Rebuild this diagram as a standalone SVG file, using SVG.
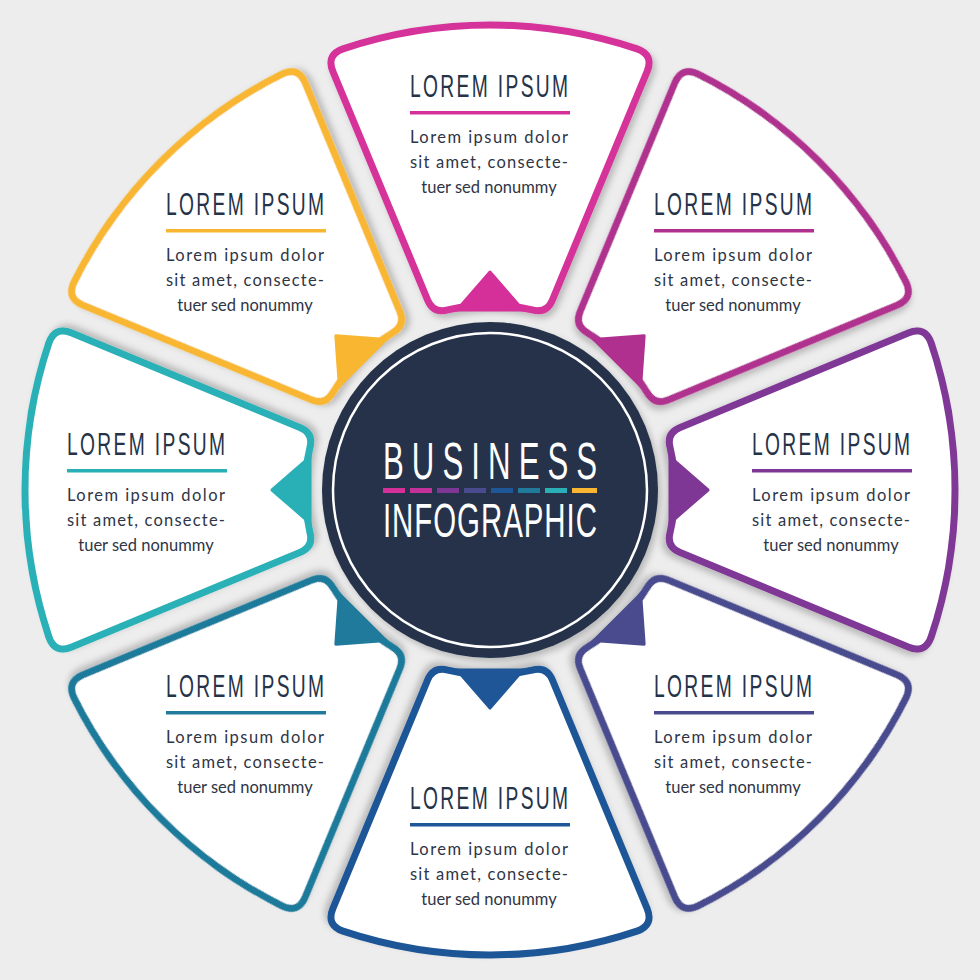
<svg xmlns="http://www.w3.org/2000/svg" xmlns:xlink="http://www.w3.org/1999/xlink" width="980" height="980" viewBox="0 0 980 980">
<defs>
<filter id="sh" x="-20%" y="-20%" width="140%" height="140%">
<feDropShadow dx="3" dy="4" stdDeviation="3" flood-color="#000" flood-opacity="0.22"/>
</filter>
<path id="sector" fill="#fff" stroke-width="7" stroke-linejoin="round" d="M -147,-441.1 A 465 465 0 0 1 147,-441.1 Q 164,-435.1 157.1,-418.5 L 62.4,-190 Q 56.7,-176.1 42.2,-180.1 A 185 185 0 0 0 -42.2,-180.1 Q -56.7,-176.1 -62.4,-190 L -157.1,-418.5 Q -164,-435.1 -147,-441.1 Z"/>
<path id="arrow" stroke-width="3" stroke-linejoin="round" d="M -33,-180 L 0,-218 L 33,-180 Z"/>
<style>
.hd{font-family:"Liberation Sans",Arial,sans-serif;font-size:31px;fill:#253349}
.bd{font-family:Lato,"Open Sans",sans-serif;font-size:16.5px;font-weight:400;fill:#2f3545}
.ct{font-family:"Liberation Sans",Arial,sans-serif;fill:#fff}
</style>
</defs>
<rect width="980" height="980" fill="#ededed"/>
<g id="connectors"/>
<g id="node-top">
<use xlink:href="#sector" href="#sector" transform="translate(490 490) rotate(0)" stroke="#d5309a" filter="url(#sh)"/>
<use xlink:href="#arrow" href="#arrow" transform="translate(490 490) rotate(0)" fill="#d5309a" stroke="#d5309a"/>
<text class="hd" transform="translate(410 97) scale(0.62 1)" textLength="255" lengthAdjust="spacing">LOREM IPSUM</text>
<rect x="410" y="111" width="160" height="3.5" fill="#d5309a"/>
<text class="bd" x="410" y="143" textLength="158" lengthAdjust="spacing">Lorem ipsum dolor</text>
<text class="bd" x="410" y="168" textLength="158" lengthAdjust="spacing">sit amet, consecte-</text>
<text class="bd" x="489" y="193" text-anchor="middle">tuer sed nonummy</text>
</g>
<g id="node-top-right">
<use xlink:href="#sector" href="#sector" transform="translate(490 490) rotate(45)" stroke="#b0308f" filter="url(#sh)"/>
<use xlink:href="#arrow" href="#arrow" transform="translate(490 490) rotate(45)" fill="#b0308f" stroke="#b0308f"/>
<text class="hd" transform="translate(654 215) scale(0.62 1)" textLength="255" lengthAdjust="spacing">LOREM IPSUM</text>
<rect x="654" y="229" width="160" height="3.5" fill="#b0308f"/>
<text class="bd" x="654" y="261" textLength="158" lengthAdjust="spacing">Lorem ipsum dolor</text>
<text class="bd" x="654" y="286" textLength="158" lengthAdjust="spacing">sit amet, consecte-</text>
<text class="bd" x="733" y="311" text-anchor="middle">tuer sed nonummy</text>
</g>
<g id="node-right">
<use xlink:href="#sector" href="#sector" transform="translate(490 490) rotate(90)" stroke="#7f3796" filter="url(#sh)"/>
<use xlink:href="#arrow" href="#arrow" transform="translate(490 490) rotate(90)" fill="#7f3796" stroke="#7f3796"/>
<text class="hd" transform="translate(752 455) scale(0.62 1)" textLength="255" lengthAdjust="spacing">LOREM IPSUM</text>
<rect x="752" y="469" width="160" height="3.5" fill="#7f3796"/>
<text class="bd" x="752" y="501" textLength="158" lengthAdjust="spacing">Lorem ipsum dolor</text>
<text class="bd" x="752" y="526" textLength="158" lengthAdjust="spacing">sit amet, consecte-</text>
<text class="bd" x="831" y="551" text-anchor="middle">tuer sed nonummy</text>
</g>
<g id="node-bottom-right">
<use xlink:href="#sector" href="#sector" transform="translate(490 490) rotate(135)" stroke="#4a4b8f" filter="url(#sh)"/>
<use xlink:href="#arrow" href="#arrow" transform="translate(490 490) rotate(135)" fill="#4a4b8f" stroke="#4a4b8f"/>
<text class="hd" transform="translate(654 697) scale(0.62 1)" textLength="255" lengthAdjust="spacing">LOREM IPSUM</text>
<rect x="654" y="711" width="160" height="3.5" fill="#4a4b8f"/>
<text class="bd" x="654" y="743" textLength="158" lengthAdjust="spacing">Lorem ipsum dolor</text>
<text class="bd" x="654" y="768" textLength="158" lengthAdjust="spacing">sit amet, consecte-</text>
<text class="bd" x="733" y="793" text-anchor="middle">tuer sed nonummy</text>
</g>
<g id="node-bottom">
<use xlink:href="#sector" href="#sector" transform="translate(490 490) rotate(180)" stroke="#1f5697" filter="url(#sh)"/>
<use xlink:href="#arrow" href="#arrow" transform="translate(490 490) rotate(180)" fill="#1f5697" stroke="#1f5697"/>
<text class="hd" transform="translate(410 809) scale(0.62 1)" textLength="255" lengthAdjust="spacing">LOREM IPSUM</text>
<rect x="410" y="823" width="160" height="3.5" fill="#1f5697"/>
<text class="bd" x="410" y="855" textLength="158" lengthAdjust="spacing">Lorem ipsum dolor</text>
<text class="bd" x="410" y="880" textLength="158" lengthAdjust="spacing">sit amet, consecte-</text>
<text class="bd" x="489" y="905" text-anchor="middle">tuer sed nonummy</text>
</g>
<g id="node-bottom-left">
<use xlink:href="#sector" href="#sector" transform="translate(490 490) rotate(225)" stroke="#1f7a9b" filter="url(#sh)"/>
<use xlink:href="#arrow" href="#arrow" transform="translate(490 490) rotate(225)" fill="#1f7a9b" stroke="#1f7a9b"/>
<text class="hd" transform="translate(166 697) scale(0.62 1)" textLength="255" lengthAdjust="spacing">LOREM IPSUM</text>
<rect x="166" y="711" width="160" height="3.5" fill="#1f7a9b"/>
<text class="bd" x="166" y="743" textLength="158" lengthAdjust="spacing">Lorem ipsum dolor</text>
<text class="bd" x="166" y="768" textLength="158" lengthAdjust="spacing">sit amet, consecte-</text>
<text class="bd" x="245" y="793" text-anchor="middle">tuer sed nonummy</text>
</g>
<g id="node-left">
<use xlink:href="#sector" href="#sector" transform="translate(490 490) rotate(270)" stroke="#29b0b7" filter="url(#sh)"/>
<use xlink:href="#arrow" href="#arrow" transform="translate(490 490) rotate(270)" fill="#29b0b7" stroke="#29b0b7"/>
<text class="hd" transform="translate(67 455) scale(0.62 1)" textLength="255" lengthAdjust="spacing">LOREM IPSUM</text>
<rect x="67" y="469" width="160" height="3.5" fill="#29b0b7"/>
<text class="bd" x="67" y="501" textLength="158" lengthAdjust="spacing">Lorem ipsum dolor</text>
<text class="bd" x="67" y="526" textLength="158" lengthAdjust="spacing">sit amet, consecte-</text>
<text class="bd" x="146" y="551" text-anchor="middle">tuer sed nonummy</text>
</g>
<g id="node-top-left">
<use xlink:href="#sector" href="#sector" transform="translate(490 490) rotate(315)" stroke="#f8b631" filter="url(#sh)"/>
<use xlink:href="#arrow" href="#arrow" transform="translate(490 490) rotate(315)" fill="#f8b631" stroke="#f8b631"/>
<text class="hd" transform="translate(166 215) scale(0.62 1)" textLength="255" lengthAdjust="spacing">LOREM IPSUM</text>
<rect x="166" y="229" width="160" height="3.5" fill="#f8b631"/>
<text class="bd" x="166" y="261" textLength="158" lengthAdjust="spacing">Lorem ipsum dolor</text>
<text class="bd" x="166" y="286" textLength="158" lengthAdjust="spacing">sit amet, consecte-</text>
<text class="bd" x="245" y="311" text-anchor="middle">tuer sed nonummy</text>
</g>
<g id="node-center">
<circle cx="490" cy="490" r="168" fill="#253349" filter="url(#sh)"/>
<circle cx="490" cy="490" r="157" fill="none" stroke="#fff" stroke-width="2.5"/>
<text class="ct" font-size="52" transform="translate(383 479) scale(0.6 1)" textLength="357" lengthAdjust="spacing">BUSINESS</text>
<rect x="383" y="488" width="22" height="5" fill="#d5309a"/>
<rect x="410" y="488" width="22" height="5" fill="#c4319a"/>
<rect x="437" y="488" width="22" height="5" fill="#7f3796"/>
<rect x="464" y="488" width="22" height="5" fill="#4a4b8f"/>
<rect x="491" y="488" width="22" height="5" fill="#1f5697"/>
<rect x="518" y="488" width="22" height="5" fill="#1f7a9b"/>
<rect x="545" y="488" width="22" height="5" fill="#29b0b7"/>
<rect x="572" y="488" width="25" height="5" fill="#f8b631"/>
<text class="ct" font-size="47.5" transform="translate(383 537) scale(0.62 1)" textLength="345" lengthAdjust="spacing">INFOGRAPHIC</text>
</g>
</svg>
